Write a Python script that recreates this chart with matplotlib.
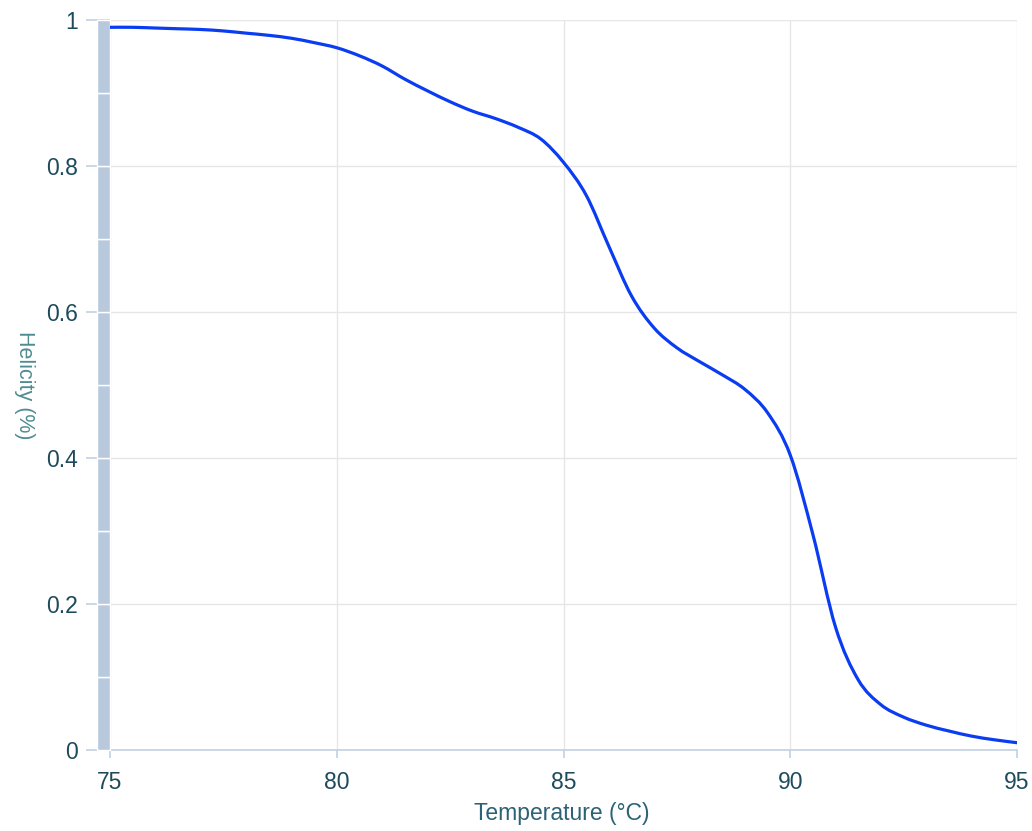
import matplotlib
matplotlib.use("Agg")
import matplotlib.pyplot as plt
import matplotlib.transforms as mtransforms
from matplotlib.patches import Rectangle, PathPatch
from matplotlib.path import Path

# Data
temperature = [75, 75.5, 76, 76.5, 77, 77.5, 78, 78.5, 79, 79.5,
               80, 80.5, 81, 81.5, 82, 82.5, 83, 83.5, 84, 84.5,
               85, 85.5, 86, 86.5, 87, 87.5, 88, 88.5, 89, 89.5,
               90, 90.5, 91, 91.5, 92, 92.5, 93, 93.5, 94, 94.5, 95]
helicity = [0.990, 0.990, 0.989, 0.988, 0.987, 0.985, 0.982, 0.979, 0.975, 0.969,
            0.962, 0.951, 0.937, 0.919, 0.903, 0.888, 0.875, 0.865, 0.853, 0.837,
            0.805, 0.760, 0.690, 0.622, 0.578, 0.551, 0.532, 0.514, 0.494, 0.462,
            0.404, 0.295, 0.168, 0.096, 0.062, 0.045, 0.034, 0.026, 0.019, 0.014, 0.010]
x_ticks = [75, 80, 85, 90, 95]
x_tick_labels = ["75", "80", "85", "90", "95"]
y_ticks = [0, 0.2, 0.4, 0.6, 0.8, 1.0]
y_tick_labels = ["0", "0.2", "0.4", "0.6", "0.8", "1"]
bar_edges = [0.0, 0.1, 0.2, 0.3, 0.4, 0.5, 0.6, 0.7, 0.8, 0.9, 1.0]

plt.rcParams['font.family'] = ['Liberation Sans', 'DejaVu Sans']

fig = plt.figure(figsize=(10.32, 8.31), dpi=100)
ax = fig.add_axes([110/1032, 81/831, 907/1032, 730/831])

tick_col = '#1d4b5c'
axis_col = '#c3d1e3'
grid_col = '#e6e6e6'


def smooth_path(xs, ys, k=1/6):
    # Catmull-Rom style spline through the data points as cubic Bezier segments
    verts = [(xs[0], ys[0])]
    codes = [Path.MOVETO]
    n = len(xs)
    for i in range(n - 1):
        x0, y0 = (xs[i - 1], ys[i - 1]) if i > 0 else (xs[i], ys[i])
        x1, y1 = xs[i], ys[i]
        x2, y2 = xs[i + 1], ys[i + 1]
        x3, y3 = (xs[i + 2], ys[i + 2]) if i + 2 < n else (x2, y2)
        c1 = (x1 + (x2 - x0) * k, y1 + (y2 - y0) * k)
        c2 = (x2 - (x3 - x1) * k, y2 - (y3 - y1) * k)
        verts += [c1, c2, (x2, y2)]
        codes += [Path.CURVE4, Path.CURVE4, Path.CURVE4]
    return Path(verts, codes)


curve = PathPatch(smooth_path(temperature, helicity), facecolor='none',
                  edgecolor='#0a3cf2', lw=2.3, zorder=4, capstyle='round',
                  transform=ax.transData)
ax.add_patch(curve)

ax.set_xlim(75, 95)
ax.set_ylim(0, 1)
ax.set_xticks(x_ticks)
ax.set_xticklabels(x_tick_labels)
ax.set_yticks(y_ticks)
ax.set_yticklabels(y_tick_labels)

ax.grid(True, color=grid_col, lw=1.0, zorder=0)
ax.set_axisbelow(True)

for s in ['top', 'right', 'left']:
    ax.spines[s].set_visible(False)
ax.spines['bottom'].set_color(axis_col)
ax.spines['bottom'].set_linewidth(1.2)

ax.tick_params(axis='x', colors=axis_col, length=6, width=1.2, pad=9, labelsize=16.5, labelcolor=tick_col)
ax.tick_params(axis='y', colors=axis_col, length=17, width=1.2, pad=6, labelsize=16.5, labelcolor=tick_col)

# vertical segmented bar on the left
trans = mtransforms.blended_transform_factory(ax.transAxes, ax.transData)
bar_w = 13/907
for y0, y1 in zip(bar_edges[:-1], bar_edges[1:]):
    ax.add_patch(Rectangle((-bar_w, y0), bar_w, y1 - y0, transform=trans,
                           facecolor='#b9c9dd', edgecolor='white', lw=1.0,
                           clip_on=False, zorder=3))

ax.set_xlabel('Temperature (°C)', fontsize=16.5, color='#2b6274', va='top')
ax.xaxis.set_label_coords(0.498, -0.071)
ax.set_ylabel('Helicity (%)', fontsize=15.5, color='#4f8c92', rotation=270, va='center')
ax.yaxis.set_label_coords(-0.094, 0.5)

fig.savefig('out.png', dpi=100)
